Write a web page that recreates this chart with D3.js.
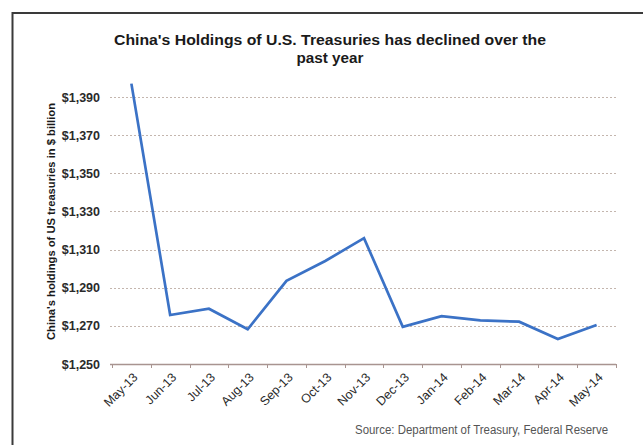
<!DOCTYPE html>
<html>
<head>
<meta charset="utf-8">
<script src="https://cdn.jsdelivr.net/npm/d3@7"></script>
<style>
  html, body { margin: 0; padding: 0; background: #fff; }
  svg { display: block; font-family: "Liberation Sans", Arial, sans-serif; }
</style>
</head>
<body>
<svg id="chart" width="643" height="445"></svg>
<script>
// Monthly holdings, $ billion
const months = ["May-13", "Jun-13", "Jul-13", "Aug-13", "Sep-13", "Oct-13", "Nov-13",
                "Dec-13", "Jan-14", "Feb-14", "Mar-14", "Apr-14", "May-14"];
const holdings = [1397, 1275.7, 1279, 1268.2, 1293.6, 1304, 1316, 1269.5, 1275.1, 1272.9, 1272.2, 1263.1, 1270.4];
const yTicks = [1250, 1270, 1290, 1310, 1330, 1350, 1370, 1390];

const titleLines = ["China's Holdings of U.S. Treasuries has declined over the", "past year"];
const yTitle = "China's holdings of US treasuries in $ billion";
const sourceText = "Source: Department of Treasury, Federal Reserve";

const svg = d3.select("#chart");

svg.append("rect").attr("width", 643).attr("height", 445).attr("fill", "#fff");

// frame (top and left edges)
svg.append("path")
  .attr("d", "M12.5,445 L12.5,13 L643,13")
  .attr("fill", "none").attr("stroke", "#3a3a3a").attr("stroke-width", 2);

const x = d3.scaleBand().domain(months).range([112, 616]).paddingInner(0).paddingOuter(0);
const y = d3.scaleLinear().domain([1250, 1390]).range([364, 97]);
const cx = d => x(d) + x.bandwidth() / 2;

// title
svg.append("text").attr("x", 330).attr("y", 44.5)
  .attr("text-anchor", "middle").attr("font-weight", "bold").attr("font-size", 14.5)
  .attr("fill", "#1a1a1a")
  .attr("textLength", 432).attr("lengthAdjust", "spacingAndGlyphs")
  .text(titleLines[0]);
svg.append("text").attr("x", 330).attr("y", 62.5)
  .attr("text-anchor", "middle").attr("font-weight", "bold").attr("font-size", 14.5)
  .attr("fill", "#1a1a1a")
  .attr("textLength", 67).attr("lengthAdjust", "spacingAndGlyphs")
  .text(titleLines[1]);

// gridlines
svg.append("g").selectAll("line")
  .data(yTicks.filter(v => v !== 1250))
  .join("line")
  .attr("x1", 110).attr("x2", 617)
  .attr("y1", d => Math.round(y(d)) + 0.5).attr("y2", d => Math.round(y(d)) + 0.5)
  .attr("stroke", "#c4b6ae").attr("stroke-width", 1)
  .attr("stroke-dasharray", "2,2");

// y axis labels
const yAxis = d3.axisLeft(y).tickValues(yTicks).tickSize(0).tickPadding(10)
  .tickFormat(d => "$" + d3.format(",")(d));
const gy = svg.append("g").attr("transform", "translate(110,0)").call(yAxis);
gy.select(".domain").remove();
gy.selectAll("text")
  .attr("font-family", "Liberation Sans, Arial, sans-serif")
  .attr("font-size", 12.5).attr("font-weight", "bold").attr("fill", "#2a2a2a");

// x axis
const xAxis = d3.axisBottom(x).tickSize(0).tickPadding(0);
const gx = svg.append("g").attr("transform", "translate(0,364)").call(xAxis);
gx.select(".domain").attr("stroke", "#a89490").attr("stroke-width", 1.3).attr("d", "M110,0.5H616");
gx.selectAll(".tick text")
  .attr("font-family", "Liberation Sans, Arial, sans-serif")
  .attr("font-size", 12.5).attr("fill", "#2a2a2a")
  .attr("text-anchor", "end")
  .attr("transform", "translate(4,11) rotate(-45)")
  .attr("dy", "0.35em").attr("y", 0).attr("x", 0);
// tick marks at category boundaries
svg.append("g").selectAll("line")
  .data(months.map(m => x(m)).concat([x.range()[1]]))
  .join("line")
  .attr("x1", d => Math.round(d) + 0.5).attr("x2", d => Math.round(d) + 0.5)
  .attr("y1", 364).attr("y2", 368)
  .attr("stroke", "#a89490").attr("stroke-width", 1);

// y axis title
svg.append("text")
  .attr("transform", "translate(55,221.5) rotate(-90)")
  .attr("text-anchor", "middle").attr("font-weight", "bold").attr("font-size", 11)
  .attr("fill", "#1a1a1a")
  .attr("textLength", 237).attr("lengthAdjust", "spacingAndGlyphs")
  .text(yTitle);

// holdings line
const line = d3.line().x((d, i) => cx(months[i])).y(d => y(d));
svg.append("path").datum(holdings)
  .attr("d", line)
  .attr("fill", "none").attr("stroke", "#3b72c6").attr("stroke-width", 2.7)
  .attr("stroke-linejoin", "miter");

// source note
svg.append("text").attr("x", 608).attr("y", 433.5)
  .attr("text-anchor", "end").attr("font-size", 12.5).attr("fill", "#555")
  .attr("textLength", 253).attr("lengthAdjust", "spacingAndGlyphs")
  .text(sourceText);
</script>
</body>
</html>
